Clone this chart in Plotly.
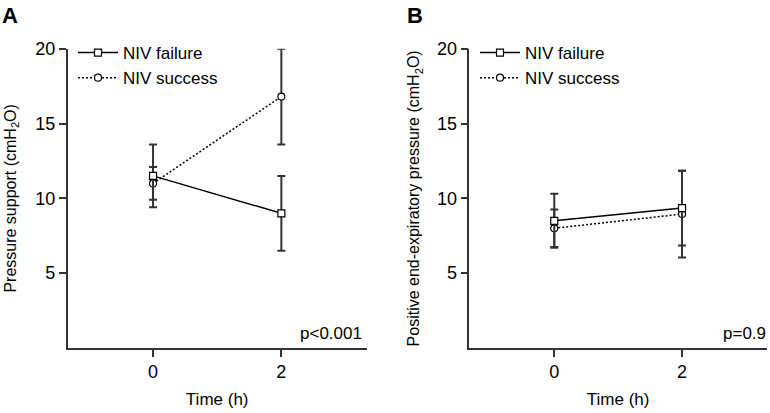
import plotly.graph_objects as go

times = [0, 2]
# Panel A: Pressure support
ps_fail = [11.5, 9.0]
ps_fail_err = [2.1, 2.5]
ps_succ = [11.0, 16.8]
ps_succ_err = [1.1, 3.2]
# Panel B: PEEP
peep_fail = [8.5, 9.35]
peep_fail_err = [1.8, 2.5]
peep_succ = [8.0, 8.95]
peep_succ_err = [1.25, 2.9]

W, H = 770, 413
FONT = "Liberation Sans, Arial, Helvetica, sans-serif"
AX = "#333333"

def px_x(p):
    return p / W

def px_y(p):
    return 1 - p / H

fig = go.Figure()

def add(x, y, err, name, dash, symbol, xa, ya, leg, group):
    fig.add_trace(go.Scatter(
        x=x, y=y, name=name, mode="lines+markers",
        xaxis=xa, yaxis=ya, legend=leg, legendgroup=group,
        line=dict(color="black", width=1.5, dash=dash),
        marker=dict(symbol=symbol, size=7, color="white",
                    line=dict(color="black", width=1.2)),
        error_y=dict(type="data", array=err, visible=True,
                     color=AX, thickness=2, width=4),
    ))

add(times, ps_succ, ps_succ_err, "NIV success", "2px,2px", "circle", "x", "y", "legend", "s")
add(times, ps_fail, ps_fail_err, "NIV failure", "solid", "square", "x", "y", "legend", "f")
add(times, peep_succ, peep_succ_err, "NIV success", "2px,2px", "circle", "x2", "y2", "legend2", "s")
add(times, peep_fail, peep_fail_err, "NIV failure", "solid", "square", "x2", "y2", "legend2", "f")

ytop, ybot = 48.7, 348.0
dom_y = [px_y(ybot), px_y(ytop)]
common_x = dict(range=[-1.33, 3.33], tickvals=[0, 2], showline=True, linecolor=AX,
                linewidth=1.5, ticks="outside", ticklen=7, tickcolor=AX, tickwidth=1.5,
                showgrid=False, zeroline=False, automargin=False,
                tickfont=dict(size=18, color="black", family=FONT),
                title=dict(text="Time (h)", font=dict(size=17, color="black", family=FONT), standoff=12))
common_y = dict(range=[0, 20], tickvals=[5, 10, 15, 20], showline=True, linecolor=AX,
                linewidth=1.5, ticks="outside", ticklen=7, tickcolor=AX, tickwidth=1.5,
                showgrid=False, zeroline=False, automargin=False,
                tickfont=dict(size=18, color="black", family=FONT))

legend_common = dict(xanchor="left", yanchor="top",
                     font=dict(size=17, family=FONT, color="black"),
                     bgcolor="rgba(0,0,0,0)", traceorder="reversed",
                     tracegroupgap=7, itemwidth=40)

fig.update_layout(
    width=W, height=H, margin=dict(l=0, r=0, t=0, b=0, autoexpand=False),
    paper_bgcolor="white", plot_bgcolor="white",
    font=dict(family=FONT, color="black"),
    xaxis=dict(domain=[px_x(67.7), px_x(366.7)], anchor="y", **common_x),
    yaxis=dict(domain=dom_y, anchor="x",
               title=dict(text="Pressure support (cmH<sub>2</sub>O)",
                          font=dict(size=16, color="black", family=FONT), standoff=15),
               **common_y),
    xaxis2=dict(domain=[px_x(469.3), px_x(767)], anchor="y2", **common_x),
    yaxis2=dict(domain=dom_y, anchor="x2",
                title=dict(text="Positive end-expiratory pressure (cmH<sub>2</sub>O)",
                           font=dict(size=16, color="black", family=FONT), standoff=13),
                **common_y),
    legend=dict(x=px_x(73), y=px_y(35), **legend_common),
    legend2=dict(x=px_x(475), y=px_y(35), **legend_common),
    annotations=[
        dict(text="<b>A</b>", x=0, y=px_y(15), xref="paper", yref="paper",
             xanchor="left", yanchor="middle", showarrow=False,
             font=dict(size=22, family=FONT, color="black")),
        dict(text="<b>B</b>", x=px_x(405), y=px_y(15), xref="paper", yref="paper",
             xanchor="left", yanchor="middle", showarrow=False,
             font=dict(size=22, family=FONT, color="black")),
        dict(text="p<0.001", x=px_x(364), y=px_y(333), xref="paper", yref="paper",
             xanchor="right", yanchor="middle", showarrow=False,
             font=dict(size=17, family=FONT, color="black")),
        dict(text="p=0.9", x=px_x(768), y=px_y(333), xref="paper", yref="paper",
             xanchor="right", yanchor="middle", showarrow=False,
             font=dict(size=17, family=FONT, color="black")),
    ],
)

fig.write_html("out.html", config={"displayModeBar": False},
               post_script="document.body.style.margin='0';")
